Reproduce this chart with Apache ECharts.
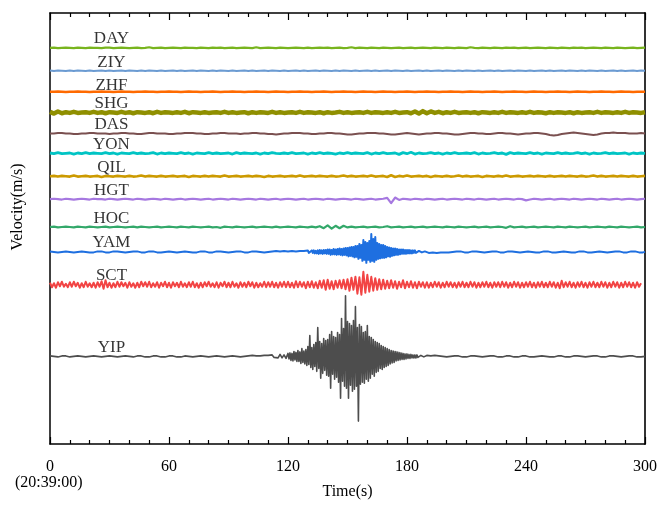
<!DOCTYPE html>
<html>
<head>
<meta charset="utf-8">
<title>Velocity records</title>
<script src="https://cdn.jsdelivr.net/npm/echarts@6/dist/echarts.min.js"></script>
<style>
  html, body { margin: 0; padding: 0; background: #ffffff; }
  #chart { width: 660px; height: 505px; }
</style>
</head>
<body>
<div id="chart"></div>
<script>
// Station codes, top to bottom
const stations = ['DAY', 'ZIY', 'ZHF', 'SHG', 'DAS', 'YON', 'QIL', 'HGT', 'HOC', 'YAM', 'SCT', 'YIP'];

// Time axis ticks (s after 20:39:00)
const timeTicks = [0, 60, 120, 180, 240, 300];
const startClock = '(20:39:00)';

// Sample spacing (s) of the records below
const stepQuiet = 2;
const stepActive = 1;
const stepBurst = 0.5;

// Velocity records, relative amplitude units
const dayTrace = [
  0,1,-1,0,1,0,-1,1,0,-1, 1,0,0,-1,1,1,-1,0,1,0, -1,0,1,-1,0,2,-1,0,1,-1,
  0,1,0,-1,1,0,0,-1,1,0, -1,1,0,1,-1,0,1,-1,0,1, 0,-1,2,-1,0,1,0,-1,1,0,
  -1,0,1,0,-1,1,-1,0,1,0, 1,-1,0,1,-1,0,2,-1,1,0, -1,1,0,-1,1,0,-1,0,1,-1,
  0,1,-1,0,1,0,-1,1,0,-1, 1,0,-1,1,0,-1,2,0,-1,1, 0,-1,1,0,-1,1,0,1,-1,0,
  1,-1,0,1,0,-1,1,0,-1,1, 0,-1,1,0,1,-1,0,1,0,-1, 1,0,-1,1,0,-1,0,1,-1,0, 1
];
const ziyTrace = [
  1,-1,1,0,-1,1,-1,1,0,-1, 1,-1,0,1,-1,1,-1,0,1,-1, 1,0,-1,1,-1,1,0,-1,1,-1,
  0,1,-1,1,-1,0,1,-1,1,0, -1,1,-1,1,0,-1,1,-1,0,1, -1,1,-1,0,1,-1,1,0,-1,1,
  -1,0,1,-1,1,-1,0,1,-1,1, 0,-1,1,-1,1,0,-1,1,-1,0, 1,-1,1,-1,0,1,-1,1,0,-1,
  1,-1,0,1,-1,1,-1,0,1,-1, 1,0,-1,1,-1,1,0,-1,1,-1, 0,1,-1,1,-1,0,1,-1,1,0,
  -1,1,-1,0,1,-1,1,-1,0,1, -1,1,0,-1,1,-1,1,0,-1,1, -1,0,1,-1,1,-1,0,1,-1,1, 0
];
const zhfTrace = [
  0,0,1,0,-1,0,0,1,0,0, -1,0,0,1,0,0,-1,0,1,0, 0,-1,0,0,1,0,0,-1,0,0,
  1,0,0,-1,0,1,0,0,-1,0, 0,1,0,-1,0,0,1,0,0,-1, 0,0,1,0,0,-1,0,1,0,0,
  -1,0,0,1,0,0,-1,0,0,1, 0,-1,0,0,1,0,0,-1,0,1, 0,0,-1,0,1,0,0,-1,0,0,
  1,0,-1,0,0,1,0,0,-1,0, 0,1,0,0,-1,0,1,0,0,-1, 0,0,1,0,-1,0,0,1,0,0,
  -1,0,1,0,0,-1,0,0,1,0, 0,-1,0,1,0,0,-1,0,0,1, 0,0,-1,0,1,0,0,-1,0,0, 0
];
const shgTrace = [
  2,-3,3,-2,1,-1,2,-1,0,1, -1,2,-1,1,-2,1,0,-1,2,-1, 1,-2,1,0,-1,1,-2,2,-1,1,
  0,-1,1,-1,2,-2,1,0,-1,1, -1,0,1,-1,2,-1,1,-1,0,1, -2,1,-1,1,0,-1,2,-1,1,-1,
  0,1,-1,2,-1,1,0,-1,1,-2, 1,-1,0,2,-1,1,-1,0,1,-1, 2,-1,1,0,-1,1,-1,2,-1,0,
  1,-2,3,-3,4,-2,3,-1,2,-2, 1,-1,2,-1,0,1,-1,1,-2,1, 0,-1,1,-1,2,-1,1,0,-1,1,
  -1,2,-1,1,0,-2,1,-1,1,0, -1,1,-2,1,-1,0,1,-1,2,-1, 1,0,-1,1,-1,2,-1,1,0,-1, 1
];
const dasTrace = [
  0,0,1,1,0,0,-1,-1,0,0, 1,1,0,0,0,-1,0,0,1,1, 0,0,-1,-1,0,1,1,0,0,0,
  -1,-1,0,0,1,1,1,0,0,-1, -1,0,0,1,1,0,0,0,-1,0, 0,1,1,0,0,-1,-1,-2,-1,0,
  0,1,1,1,0,0,-1,-1,0,0, 1,1,0,0,-1,-2,-2,-1,0,0, 1,1,1,0,0,-1,-2,-2,-1,0,
  1,0,-1,-2,-1,0,0,1,1,0, 0,-1,-2,-2,-1,0,1,1,0,0, -1,-1,0,1,1,0,0,-1,-2,-1,
  0,0,1,1,0,-1,-3,-4,-3,-1, 0,1,2,1,0,-1,-2,-3,-2,0, 1,1,2,1,1,1,0,0,0,1, 0
];
const yonTrace = [
  1,-1,2,-1,0,1,-2,1,-1,2, -1,1,0,-1,2,-1,1,-2,1,0, -1,2,-1,1,-1,0,2,-2,1,-1,
  1,0,-1,2,-1,1,-2,1,0,-1, 2,-1,1,-1,0,1,-2,2,-1,1, 0,-1,1,-2,1,-1,2,0,-1,1,
  -1,2,-1,0,1,-2,1,-1,2,-1, 1,0,-2,1,-1,2,-1,1,0,-1, 2,-2,1,-1,2,-1,0,1,-3,2,
  -1,3,-2,1,-1,0,2,-1,1,-2, 1,-1,2,-1,0,1,-1,2,-2,1, -1,0,2,-1,1,-3,2,-1,1,0,
  -1,2,-1,1,-2,1,0,-1,2,-1, 1,-1,0,2,-1,1,-2,1,-1,0, 2,-1,1,-1,0,1,-2,1,-1,1, 0
];
const qilTrace = [
  0,1,-1,1,0,-1,2,-1,0,1, -1,0,1,-2,1,0,-1,1,0,-1, 1,-1,0,2,-1,1,0,-1,1,-1,
  0,1,-1,0,1,-2,1,0,-1,1, -1,1,0,-1,2,-1,0,1,-1,0, 1,-1,1,0,-2,1,-1,0,1,-1,
  0,1,-1,2,-1,0,1,-1,1,0, -1,1,-1,0,2,-1,1,-1,0,1, -1,2,-1,0,1,-2,3,-2,1,-1,
  2,-1,0,1,-1,1,-2,1,0,-1, 1,-1,0,2,-1,1,-1,0,1,-2, 1,0,-1,1,-1,2,-1,0,1,-1,
  0,1,-1,1,0,-1,1,-1,0,1, -1,1,0,-1,1,-1,0,2,-1,1, -1,0,1,-1,1,0,-1,1,-1,0, 1
];
const hgtTrace = [
  0,1,0,-1,1,0,-1,0,1,0, -1,1,0,0,-1,1,0,-1,0,1, 0,-1,1,0,-1,0,1,0,-1,1,
  0,-1,0,1,-1,0,1,0,-1,0, 1,-1,0,1,0,-1,1,0,-1,0, 1,0,-1,1,0,-1,0,1,-1,0,
  1,0,-1,0,1,-1,0,1,0,-1, 1,0,-1,0,1,0,-1,1,0,-1, 0,1,-1,0,1,3,-10,4,-2,1,
  0,-1,1,0,-1,1,0,-1,0,1, -1,0,1,0,-1,1,0,-1,1,0, -1,0,1,-1,0,1,0,-1,1,0,
  -3,-1,1,0,-1,0,1,-1,0,1, 0,-1,1,0,-1,0,1,0,-1,1, 0,-1,0,1,-1,0,1,0,-1,0, 1
];
const hocTrace = [
  0,1,-1,0,1,0,-1,1,0,-1, 1,0,-1,0,1,-1,0,1,0,-1, 0,1,-1,1,0,-1,0,1,-1,0,
  1,0,-1,1,0,-1,1,0,-1,0, 1,-1,0,-2,1,0,-1,1,0,-1, 0,1,-1,0,1,0,-1,1,-1,0,
  1,0,-1,1,0,-1,1,-1,2,-3, 4,-4,3,-3,3,-1,1,-1,0,1, -1,0,1,-1,0,2,-1,0,1,-1,
  0,1,-1,0,1,-1,0,1,0,-1, 1,0,-1,1,0,-1,0,1,-1,0, 1,-1,0,1,0,-2,2,-1,0,1,
  -1,0,1,-1,0,1,0,-1,1,0, -1,1,0,-1,0,1,-1,0,1,0, -1,1,0,-1,1,0,-1,0,1,-1, 0
];

// YAM: 1 s samples before and after the arrival, 0.5 s samples through it
const yamEarly = [
  1,-1,0,1,-1,1,0,-1,1,-1, 0,1,-1,1,0,-1,1,-1,0,1, -1,1,-1,0,1,-1,1,0,-1,1,
  -1,0,1,-1,1,-1,0,1,-1,1, 0,-1,1,-1,1,0,-1,1,-1,0, 1,-1,1,0,-1,1,-1,1,0,-1,
  1,-1,0,1,-1,1,0,-1,1,-1, 0,1,-1,1,-1,0,1,-1,1,0, -1,1,-1,0,1,-1,1,-1,0,1,
  -1,1,0,-1,1,-1,1,0,-1,1, -1,0,1,-1,1,-1,0,1,-1,1, 0,-1,1,-1,2,-1,1,-1,2,-1,
  1,-2,2,-1,1,-2,2,-1,2,-2
];
const yamBurst = [
  3,-2,2,-3,3,-2,3,-3,2,-3, 3,-4,4,-3,3,-4,4,-3,4,-4,
  5,-4,5,-6,4,-5,6,-5,5,-6, 6,-5,7,-6,6,-7,7,-6,8,-7,
  8,-9,9,-8,10,-9,10,-11,12,-10, 12,-14,16,-12,14,-18,24,-16,20,-22,
  18,-16,22,-20,36,-18,26,-20,30,-16, 18,-14,16,-13,14,-12,14,-12,12,-11,
  10,-9,9,-10,8,-8,7,-7,7,-6, 6,-6,5,-5,5,-4,5,-4,4,-4,
  4,-3,4,-3,3,-3,3,-2,3,-2, 2,-2,2,-2,2,-1,2,-1,1,-1
];
const yamLate = [
  2,-2,2,-1,2,-2,1,-1,2,-1,
  1,-1,1,0,-1,1,-1,1,0,-1, 1,-1,0,1,-1,1,-1,0,1,-1, 1,0,-1,1,-1,1,0,-1,1,-1,
  0,1,-1,1,-1,0,1,-1,1,0, -1,1,-1,0,1,-1,1,-1,0,1, -1,1,0,-1,1,-1,1,0,-1,1,
  -1,0,1,-1,1,-1,0,1,-1,1, 0,-1,1,-1,1,0,-1,1,-1,0, 1,-1,1,0,-1,1,-1,1,0,-1,
  1,-1,0,1,-1,1,0,-1,1,-1, 0
];

const sctTrace = [
  4,-5,3,-6,5,-3,6,-4,2,-5, 5,-4,6,-3,4,-6,3,-5,6,-4, 3,-5,4,-6,5,-4,7,-8,9,-5,
  4,-6,3,-5,6,-4,5,-3,4,-6, 5,-4,3,-6,4,-5,6,-3,5,-4, 6,-5,3,-4,5,-6,4,-3,6,-5,
  4,-6,5,-3,4,-5,6,-4,3,-5, 5,-4,6,-5,3,-6,4,-5,5,-3, 6,-4,3,-5,5,-6,4,-3,6,-5,
  4,-5,6,-4,3,-6,5,-4,4,-5, 6,-3,5,-6,4,-5,3,-4,6,-5, 5,-4,6,-5,4,-6,5,-4,6,-5,
  6,-5,4,-6,7,-5,6,-4,5,-7, 6,-5,7,-6,5,-7,8,-6,9,-10, 10,-8,7,-9,8,-6,9,-7,10,-9,
  11,-12,14,-10,16,-18,15,-20,26,-16, 20,-14,16,-12,13,-10,11,-9,10,-8, 8,-7,9,-6,7,-8,6,-5,9,-7,
  6,-5,7,-6,5,-7,6,-4,5,-6, 5,-6,4,-5,6,-4,5,-6,4,-5, 6,-4,5,-5,4,-6,5,-4,6,-5,
  4,-5,6,-4,5,-6,4,-5,5,-4, 6,-5,4,-6,5,-4,5,-5,6,-4, 5,-6,4,-5,6,-4,5,-6,4,-5,
  5,-4,6,-5,4,-6,5,-4,6,-5, 4,-5,6,-4,5,-6,4,-7,8,-5, 5,-4,6,-5,4,-6,5,-4,6,-5,
  4,-6,5,-4,6,-5,4,-5,6,-4, 5,-6,4,-5,6,-4,5,-6,4,-5, 6,-4,5,-5,4,-6,5,-4,3
];

// YIP: 1 s samples before and after the arrival, 0.5 s samples through it
const yipEarly = [
  1,-1,0,1,-1,0,1,-1,1,0, -1,1,0,-1,1,-1,0,1,-1,1, 0,-1,1,-1,0,1,-1,1,0,-1,
  1,-1,0,1,-1,1,0,-1,1,-1, 0,1,-1,0,1,-1,1,0,-1,1, -1,0,1,-1,1,0,-1,1,-1,0,
  1,-1,1,0,-1,1,-1,0,1,-1, 0,1,-1,1,0,-1,1,-1,0,1, -1,1,0,-1,1,-1,0,1,-1,1,
  0,-1,1,-1,0,1,-1,1,0,-1, 1,-1,2,-1,1,-2,1,-1,2,-2, 2,-2,3,-2,2,-3,4,-3,3,-4
];
const yipBurst = [
  6,-5,7,-8,6,-9,10,-7,8,-10, 12,-10,9,-14,16,-12,11,-15,14,-18,
  20,-16,42,-22,18,-26,24,-20,28,-30, 58,-24,30,-44,26,-34,36,-28,32,-38,
  34,-40,44,-64,50,-36,40,-46,38,-42, 48,-52,44,-84,76,-50,56,-60,122,-64,
  70,-84,66,-58,62,-70,72,-66,100,-60, 58,-130,64,-56,60,-52,48,-54,50,-46,
  62,-50,40,-44,38,-36,34,-40,30,-32, 28,-30,26,-24,22,-26,20,-22,18,-20,
  16,-18,14,-15,12,-13,11,-12,10,-9, 9,-8,8,-7,7,-6,6,-6,5,-5,
  5,-4,4,-4,4,-3,3,-3,3,-3, 3,-2,2,-2,2,-2,2,-1,2,-1
];
const yipLate = [
  2,-2,1,-1,2,-1,1,-1,0,1,
  -1,1,0,-1,1,-1,1,0,-1,1, -1,0,1,-1,1,-1,0,1,-1,1, 0,-1,1,-1,1,0,-1,1,-1,0,
  1,-1,1,0,-1,1,-1,0,1,-1, 1,0,-1,1,-1,1,0,-1,1,-1, 0,1,-1,1,-1,0,1,-1,1,0,
  -1,1,-1,0,1,-1,1,-1,0,1, -1,1,0,-1,1,-1,1,0,-1,1, -1,0,1,-1,1,-1,0,1,-1,1,
  0,-1,1,-1,1,0,-1,1,-1,0, 0
];

// Each record as [start time, sample spacing, samples] pieces
const traces = [
  [[0, stepQuiet, dayTrace]],
  [[0, stepQuiet, ziyTrace]],
  [[0, stepQuiet, zhfTrace]],
  [[0, stepQuiet, shgTrace]],
  [[0, stepQuiet, dasTrace]],
  [[0, stepQuiet, yonTrace]],
  [[0, stepQuiet, qilTrace]],
  [[0, stepQuiet, hgtTrace]],
  [[0, stepQuiet, hocTrace]],
  [[0, stepActive, yamEarly], [130, stepBurst, yamBurst], [190, stepActive, yamLate]],
  [[0, stepActive, sctTrace]],
  [[0, stepActive, yipEarly], [120, stepBurst, yipBurst], [190, stepActive, yipLate]]
];

// Display gain and vertical placement of each record and its station label
const traceGains = [0.6, 0.6, 0.5, 0.7, 1, 0.7, 0.7, 0.8, 0.8, 1, 1, 1];
const traceOffsets = [796, 750, 708, 666, 624, 584, 538, 492, 436, 386, 320, 176];
const labelTime = 31;
const labelLifts = [18, 16, 13, 18, 18, 18, 18, 18, 18, 18, 18, 18];

// Drawing styles
const traceColors = ['#78b41e', '#6b9bd2', '#ff6a00', '#8f8f00', '#7a5050', '#00c4c4',
                     '#cc9a00', '#a678e0', '#33a86a', '#1e6fe0', '#f24444', '#4d4d4d'];
const traceWidths = [2.2, 2, 2.5, 4.5, 2, 2.8, 2.6, 2.2, 2.2, 2, 2, 1.6];

const FONT = '"Liberation Serif", "Times New Roman", serif';

function toPoints(pieces, gain, offset) {
  const pts = [];
  pieces.forEach(([t0, dt, vals]) => {
    vals.forEach((v, i) => pts.push([t0 + i * dt, offset + gain * v]));
  });
  return pts;
}

const series = traces.map((pieces, k) => ({
  type: 'line',
  name: stations[k],
  data: toPoints(pieces, traceGains[k], traceOffsets[k]),
  showSymbol: false,
  symbol: 'none',
  silent: true,
  animation: false,
  lineStyle: { color: traceColors[k], width: traceWidths[k], join: 'round' }
}));

series.push({
  type: 'scatter',
  silent: true,
  animation: false,
  symbolSize: 1,
  itemStyle: { color: 'rgba(0,0,0,0)' },
  data: stations.map((s, k) => [labelTime, traceOffsets[k] + labelLifts[k], s]),
  label: {
    show: true,
    position: 'inside',
    formatter: p => p.data[2],
    color: '#000000',
    fontFamily: FONT,
    fontSize: 17
  },
  z: 10
});

const chart = echarts.init(document.getElementById('chart'), null, { renderer: 'canvas' });

function tick() {
  return { show: true, inside: true, length: 7, lineStyle: { color: '#000', width: 1.2 } };
}
function minor() {
  return { show: true, splitNumber: 6, length: 4, lineStyle: { color: '#000', width: 1.2 } };
}
function frameLine(color) {
  return { show: true, onZero: false, lineStyle: { color: color, width: 1.5 } };
}

chart.setOption({
  backgroundColor: '#ffffff',
  animation: false,
  grid: { left: 50, right: 15, top: 13, bottom: 59 },
  xAxis: [
    {
      type: 'value', position: 'bottom',
      min: timeTicks[0], max: timeTicks[timeTicks.length - 1], interval: 60,
      name: 'Time(s)', nameLocation: 'middle', nameGap: 40,
      nameTextStyle: { fontFamily: FONT, fontSize: 16, color: '#000' },
      axisLine: frameLine('#000'),
      axisTick: tick(),
      minorTick: minor(),
      axisLabel: { fontFamily: FONT, fontSize: 16, color: '#000', margin: 15 },
      splitLine: { show: false }
    },
    {
      type: 'value', position: 'top',
      min: timeTicks[0], max: timeTicks[timeTicks.length - 1], interval: 60,
      axisLine: frameLine('#000'),
      axisTick: tick(),
      minorTick: minor(),
      axisLabel: { show: false },
      splitLine: { show: false }
    }
  ],
  yAxis: [
    {
      type: 'value', position: 'left', min: 0, max: 866,
      axisLine: frameLine('#000'),
      axisTick: { show: false }, axisLabel: { show: false }, splitLine: { show: false }
    },
    {
      type: 'value', position: 'right', min: 0, max: 866,
      axisLine: { show: true, onZero: false, lineStyle: { color: '#333', width: 2 } },
      axisTick: { show: false }, axisLabel: { show: false }, splitLine: { show: false }
    }
  ],
  graphic: [
    {
      type: 'text', left: 15, top: 475,
      style: { text: startClock, fontFamily: FONT, fontSize: 16, fill: '#000' }
    },
    {
      type: 'text', x: 18, y: 207, rotation: Math.PI / 2,
      style: {
        text: 'Velocity(m/s)', fontFamily: FONT, fontSize: 16, fill: '#000',
        align: 'center', verticalAlign: 'middle'
      }
    }
  ],
  series: series
});
</script>
</body>
</html>
